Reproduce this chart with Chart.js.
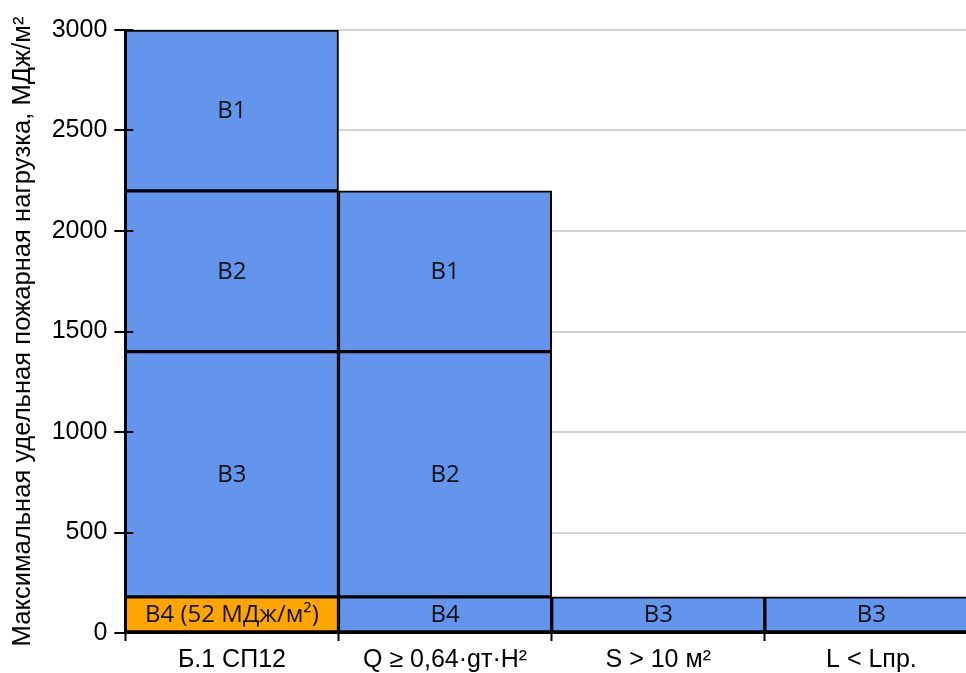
<!DOCTYPE html>
<html>
<head>
<meta charset="utf-8">
<script src="https://cdn.jsdelivr.net/npm/chart.js@4/dist/chart.umd.min.js"></script>
<style>
html,body{margin:0;padding:0;background:#fff;overflow:hidden;}
#wrap{width:966px;height:673px;overflow:hidden;position:relative;}
#box{width:990px;height:680px;position:absolute;left:0;top:0;}
</style>
</head>
<body>
<div id="wrap"><div id="box"><canvas id="c"></canvas></div></div>
<script>
const categories = ['Б.1 СП12', 'Q ≥ 0,64·gт·H²', 'S > 10 м²', 'L < Lпр.'];
const yTicks = [0, 500, 1000, 1500, 2000, 2500, 3000];
const yTitle = 'Максимальная удельная пожарная нагрузка, МДж/м²';

// segment heights per stack level (bottom to top), null = no segment
const level0 = [180, 180, 180, 180];
const level1 = [1220, 1220, null, null];
const level2 = [800, 800, null, null];
const level3 = [800, null, null, null];

const level0Labels = ['В4 (52 МДж/м²)', 'В4', 'В3', 'В3'];
const level1Labels = ['В3', 'В2', '', ''];
const level2Labels = ['В2', 'В1', '', ''];
const level3Labels = ['В1', '', '', ''];

const BLUE = '#6495ED', ORANGE = '#FFA500';
const AXIS_FONT = '"Liberation Sans", Arial, sans-serif';

function ds(data, labels, colors) {
  return {
    data: data,
    segLabels: labels,
    backgroundColor: colors,
    borderColor: '#000',
    borderWidth: 2,
    borderSkipped: false,
    barPercentage: 1,
    categoryPercentage: 1
  };
}

const labelPlugin = {
  id: 'segLabels',
  afterDatasetsDraw(chart) {
    const ctx = chart.ctx;
    ctx.save();
    ctx.font = '24px "Open Sans", sans-serif';
    ctx.fillStyle = '#111';
    ctx.textAlign = 'center';
    ctx.textBaseline = 'middle';
    chart.data.datasets.forEach((d, i) => {
      const meta = chart.getDatasetMeta(i);
      meta.data.forEach((bar, j) => {
        const t = d.segLabels[j];
        if (!t || d.data[j] == null) return;
        const p = bar.getProps(['x', 'y', 'base'], true);
        ctx.fillText(t, p.x, (p.y + p.base) / 2 + 1);
      });
    });
    // inner tick stubs on the y axis
    const ys = chart.scales.y;
    const left = chart.chartArea.left;
    ctx.strokeStyle = '#000';
    ctx.lineWidth = 2;
    yTicks.forEach(v => {
      const py = Math.round(ys.getPixelForValue(v));
      ctx.beginPath();
      ctx.moveTo(left, py);
      ctx.lineTo(left + 8, py);
      ctx.stroke();
    });
    ctx.restore();
  }
};

new Chart(document.getElementById('c'), {
  type: 'bar',
  data: {
    labels: categories,
    datasets: [
      ds(level0, level0Labels, [ORANGE, BLUE, BLUE, BLUE]),
      ds(level1, level1Labels, BLUE),
      ds(level2, level2Labels, BLUE),
      ds(level3, level3Labels, BLUE)
    ]
  },
  options: {
    responsive: true,
    maintainAspectRatio: false,
    animation: false,
    layout: { padding: { top: 30, right: 12, left: 8, bottom: 0 } },
    plugins: { legend: { display: false }, tooltip: { enabled: false } },
    scales: {
      x: {
        stacked: true,
        grid: {
          offset: true,
          drawOnChartArea: false,
          tickLength: 8,
          tickColor: '#000',
          tickWidth: 2
        },
        border: { color: '#000', width: 2 },
        ticks: { color: '#000', font: { family: AXIS_FONT, size: 25, lineHeight: 1 }, padding: 7, maxRotation: 0 }
      },
      y: {
        stacked: true,
        min: 0,
        max: 3000,
        afterBuildTicks(scale) { scale.ticks = yTicks.map(v => ({ value: v })); },
        grid: {
          color: '#d3d3d3',
          lineWidth: 2,
          tickLength: 11,
          tickColor: '#000',
          tickWidth: 2
        },
        border: { color: '#000', width: 2 },
        ticks: {
          color: '#000',
          font: { family: AXIS_FONT, size: 25 },
          padding: 7,
          callback: v => String(v)
        },
        title: {
          display: true,
          text: yTitle,
          color: '#000',
          font: { family: AXIS_FONT, size: 25.6 },
          padding: { top: 0, bottom: 6 }
        }
      }
    }
  },
  plugins: [labelPlugin]
});
</script>
</body>
</html>
